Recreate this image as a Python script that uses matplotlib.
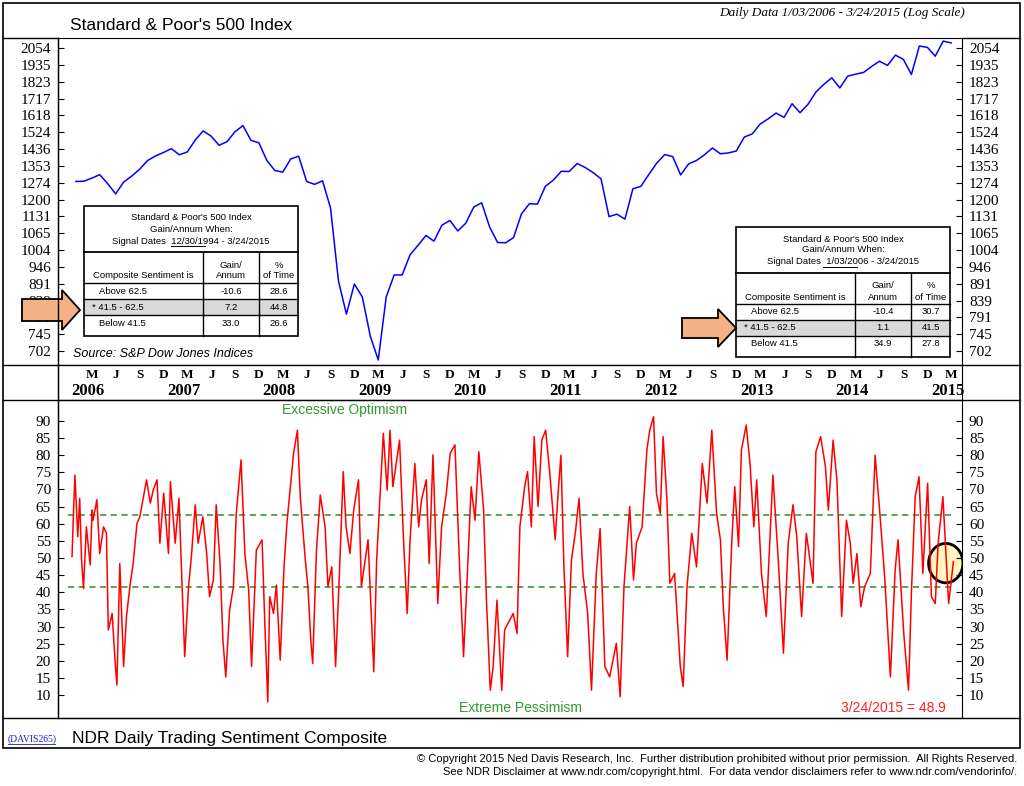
import numpy as np
import matplotlib
matplotlib.use('Agg')
import matplotlib.pyplot as plt
from matplotlib.lines import Line2D
from matplotlib.patches import Rectangle, Polygon, Ellipse

W, H = 1024, 786

# S&P 500 monthly levels, Jan 2006 .. Mar 2015
spx = [1280, 1281, 1295, 1311, 1270, 1225, 1277, 1304, 1336, 1378, 1401, 1418,
       1438, 1407, 1421, 1482, 1531, 1503, 1455, 1474, 1527, 1560, 1481, 1468,
       1379, 1331, 1323, 1386, 1400, 1280, 1267, 1283, 1166, 900, 800, 890,
       850, 740, 680, 850, 919, 919, 987, 1021, 1057, 1036, 1096, 1115,
       1074, 1104, 1169, 1187, 1089, 1031, 1030, 1049, 1141, 1183, 1181, 1258,
       1286, 1327, 1326, 1364, 1345, 1321, 1292, 1130, 1140, 1120, 1247, 1258,
       1312, 1366, 1408, 1398, 1310, 1362, 1379, 1407, 1441, 1412, 1416, 1426,
       1498, 1515, 1569, 1598, 1631, 1606, 1686, 1633, 1682, 1757, 1806, 1848,
       1783, 1859, 1872, 1884, 1924, 1960, 1931, 2003, 1972, 1870, 2068, 2059,
       1995, 2105, 2091]
spx_ticks = [702, 745, 791, 839, 891, 946, 1004, 1065, 1131, 1200, 1274, 1353,
             1436, 1524, 1618, 1717, 1823, 1935, 2054]

# NDR Daily Trading Sentiment Composite (decimal year, value)
sent_t = [2006.00, 2006.01, 2006.03, 2006.06, 2006.08, 2006.10, 2006.12, 2006.15, 2006.19, 2006.21,
          2006.22, 2006.26, 2006.29, 2006.33, 2006.36, 2006.38, 2006.42, 2006.45, 2006.47, 2006.50,
          2006.54, 2006.57, 2006.61, 2006.64, 2006.68, 2006.71, 2006.78, 2006.82, 2006.85, 2006.89,
          2006.92, 2006.96, 2007.01, 2007.03, 2007.08, 2007.12, 2007.15, 2007.18, 2007.22, 2007.25,
          2007.29, 2007.32, 2007.37, 2007.41, 2007.44, 2007.48, 2007.51, 2007.55, 2007.58, 2007.61,
          2007.65, 2007.69, 2007.72, 2007.77, 2007.81, 2007.85, 2007.88, 2007.93, 2007.99, 2008.02,
          2008.05, 2008.07, 2008.11, 2008.14, 2008.18, 2008.22, 2008.25, 2008.28, 2008.32, 2008.36,
          2008.39, 2008.44, 2008.47, 2008.50, 2008.52, 2008.56, 2008.60, 2008.65, 2008.68, 2008.72,
          2008.76, 2008.80, 2008.84, 2008.87, 2008.91, 2008.95, 2009.00, 2009.03, 2009.07, 2009.10,
          2009.16, 2009.19, 2009.22, 2009.26, 2009.30, 2009.33, 2009.36, 2009.43, 2009.47, 2009.51,
          2009.54, 2009.59, 2009.63, 2009.66, 2009.71, 2009.74, 2009.78, 2009.83, 2009.87, 2009.92,
          2009.96, 2010.01, 2010.06, 2010.10, 2010.14, 2010.18, 2010.22, 2010.26, 2010.31, 2010.34,
          2010.38, 2010.41, 2010.45, 2010.50, 2010.53,
          2010.62, 2010.66, 2010.69, 2010.74, 2010.77, 2010.81, 2010.84, 2010.88, 2010.92, 2010.96,
          2011.00, 2011.06, 2011.09, 2011.12, 2011.15, 2011.19, 2011.23, 2011.27, 2011.31, 2011.35,
          2011.40, 2011.44, 2011.49, 2011.53, 2011.58, 2011.63, 2011.70, 2011.74, 2011.78, 2011.84,
          2011.88, 2011.91, 2011.97, 2012.02, 2012.05, 2012.09, 2012.12, 2012.16, 2012.19, 2012.23,
          2012.26, 2012.31, 2012.37, 2012.40, 2012.44, 2012.49, 2012.54, 2012.60, 2012.65, 2012.70,
          2012.75, 2012.79, 2012.82, 2012.86, 2012.91, 2012.94, 2012.98, 2013.01, 2013.06, 2013.10,
          2013.14, 2013.17, 2013.22, 2013.27, 2013.34, 2013.40, 2013.45, 2013.50, 2013.55, 2013.59,
          2013.64, 2013.69, 2013.76, 2013.79, 2013.84, 2013.89, 2013.92, 2013.97, 2014.01, 2014.06,
          2014.11, 2014.15, 2014.18, 2014.22, 2014.26, 2014.30, 2014.36, 2014.41, 2014.46, 2014.51,
          2014.57, 2014.62, 2014.65, 2014.71, 2014.76, 2014.79, 2014.83, 2014.87, 2014.91, 2014.96,
          2015.00, 2015.04, 2015.07, 2015.12, 2015.16, 2015.18, 2015.23]
sent_v = [50.4, 59.1, 74.2, 56.2, 67.4, 49.4, 41.1, 59.1, 48.0, 64.0,
          61.0, 67.0, 51.3, 59.1, 57.2, 29.0, 33.8, 20.2, 12.9, 48.4,
          18.3, 32.9, 42.6, 48.4, 60.1, 62.0, 72.8, 66.0, 69.8, 72.8,
          54.3, 68.9, 51.3, 72.3, 54.3, 67.4, 43.6, 21.2, 41.6, 50.4,
          65.5, 54.3, 62.0, 51.3, 38.7, 43.6, 65.5, 48.4, 26.1, 15.3,
          34.8, 41.6, 63.0, 78.6, 51.3, 40.6, 18.3, 52.3, 55.3, 29.9,
          8.0, 38.7, 33.8, 42.1, 20.2, 47.4, 60.1, 68.9, 80.5, 87.3,
          67.9, 50.4, 41.6, 26.1, 19.2, 52.3, 68.4, 59.1, 41.6, 47.4,
          18.3, 45.5, 75.2, 59.1, 51.3, 64.0, 72.8, 41.6, 49.4, 55.3,
          16.8, 49.4, 65.0, 86.4, 69.8, 87.3, 70.8, 84.4, 56.2, 33.8,
          55.3, 77.6, 59.1, 67.0, 72.8, 48.4, 80.1, 36.7, 59.1, 68.9,
          80.5, 83.0, 46.5, 21.2, 45.5, 70.8, 61.0, 81.0, 64.0, 37.7,
          11.4, 18.3, 37.7, 11.4, 29.0,
          33.8, 28.0, 59.1, 70.8, 75.2, 59.1, 85.4, 65.0, 84.4, 87.3,
          75.7, 55.3, 68.9, 80.0, 48.4, 21.2, 49.4, 57.2, 67.4, 45.5,
          33.8, 11.4, 45.5, 58.6, 18.3, 15.3, 25.1, 9.5, 41.6, 65.0,
          43.6, 54.3, 59.1, 81.5, 87.3, 91.2, 68.9, 63.0, 85.4, 67.0,
          42.6, 45.5, 18.3, 12.5, 41.6, 57.2, 47.4, 77.6, 66.0, 87.3,
          63.0, 55.3, 35.8, 20.2, 55.3, 70.8, 53.3, 81.5, 88.8, 77.6,
          59.1, 72.8, 45.5, 32.9, 74.2, 47.4, 22.2, 54.3, 65.5, 56.2,
          32.9, 57.2, 42.6, 81.0, 85.4, 76.6, 64.0, 84.4, 72.8, 32.9,
          61.0, 54.3, 42.6, 51.3, 35.8, 41.6, 45.5, 80.0, 63.0, 44.5,
          15.3, 46.5, 55.3, 28.0, 11.4, 39.7, 67.9, 73.7, 45.5, 71.8,
          38.7, 36.7, 54.3, 67.9, 47.4, 36.7, 48.9]
sent_ticks = list(range(10, 95, 5))
month_letters = {3: 'M', 6: 'J', 9: 'S', 12: 'D'}
years = list(range(2006, 2016))

serif = 'Liberation Serif'
sans = 'Liberation Sans'
X0, X1 = 2005.853, 2015.32


def fx(x):
    return x / W


def fy(y):
    return 1 - y / H


fig = plt.figure(figsize=(10.24, 7.86), dpi=100)


def ftext(x, y, s, **kw):
    fig.text(fx(x), fy(y), s, **kw)


def fline(xs, ys, **kw):
    fig.add_artist(Line2D([fx(v) for v in xs], [fy(v) for v in ys], **kw))


# ---- top panel: S&P 500
ax1 = fig.add_axes([fx(58), fy(365), fx(904), 327 / H])
t_spx = 2006.04 + np.arange(len(spx)) / 12
ax1.plot(t_spx, spx, color='#0000ff', lw=1.1)
ax1.set_yscale('log')
ax1.set_ylim(668, 2128)
ax1.set_xlim(X0, X1)
ax1.set_yticks(spx_ticks)
ax1.set_yticklabels([str(v) for v in spx_ticks])
ax1.minorticks_off()
ax1.tick_params(axis='y', which='both', direction='in', length=4, labelsize=11,
                left=True, right=True, labelleft=True, labelright=True, pad=5)
for lab in ax1.get_yticklabels():
    lab.set_fontfamily(serif)
ax1.set_xticks(years)
ax1.set_xticks([y + m / 12 for y in years[:-1] for m in range(1, 12)] + [2015 + 1 / 12, 2015 + 2 / 12], minor=True)
ax1.tick_params(axis='x', which='major', direction='out', length=6, labelbottom=False)
ax1.tick_params(axis='x', which='minor', direction='out', length=3)

# ---- date band
axb = fig.add_axes([fx(58), fy(400), fx(904), 35 / H])
axb.set_xlim(X0, X1)
axb.set_ylim(0, 1)
axb.set_xticks([])
axb.set_yticks([])
axb.spines['top'].set_visible(False)
for y in years:
    for m, s in month_letters.items():
        t = y + (m - 0.5) / 12
        if t < X1 - 0.02:
            axb.text(t, 0.7, s, ha='center', va='center', fontsize=9.5, fontfamily=serif, fontweight='bold')
    axb.text(y + 0.17, 0.27, str(y), ha='center', va='center', fontsize=12, fontfamily=serif, fontweight='bold')

# ---- bottom panel: sentiment
ax2 = fig.add_axes([fx(58), fy(718), fx(904), 318 / H])
ax2.add_patch(Ellipse((2015.15, 48.5), 0.36, 11.5, facecolor='#fff6c0', edgecolor='black', lw=2, zorder=1))
ax2.plot(sent_t, sent_v, color='#ff0000', lw=1.1, zorder=3)
ax2.plot([2005.96, 2015.2], [62.5, 62.5], color='#2e8b2e', lw=1.1, ls=(0, (4, 3)), zorder=2)
ax2.plot([2005.96, 2015.2], [41.5, 41.5], color='#2e8b2e', lw=1.1, ls=(0, (4, 3)), zorder=2)
ax2.set_xlim(X0, X1)
ax2.set_ylim(3.3, 96.1)
ax2.set_xticks([])
ax2.set_yticks(sent_ticks)
ax2.tick_params(axis='y', direction='in', length=4, labelsize=11, left=True, right=True,
                labelleft=True, labelright=True, pad=5)
for lab in ax2.get_yticklabels():
    lab.set_fontfamily(serif)
ax2.text(2008.85, 93.3, 'Excessive Optimism', ha='center', va='center', color='#2e9a2e', fontsize=10, fontfamily=sans)
ax2.text(2010.7, 6.2, 'Extreme Pessimism', ha='center', va='center', color='#2e9a2e', fontsize=10, fontfamily=sans)
ax2.text(2015.15, 6.2, '3/24/2015 = 48.9', ha='right', va='center', color='#ff2020', fontsize=10, fontfamily=sans)

# ---- frame, header, footer
fig.add_artist(Rectangle((fx(3), fy(748)), fx(1017), 745 / H, fill=False, lw=1.2, edgecolor='black'))
fline([3, 58], [38, 38], color='black', lw=1)
fline([58, 58], [38, 718], color='black', lw=1)
fline([962, 1020], [38, 38], color='black', lw=1)
fline([3, 1020], [365, 365], color='black', lw=1)
fline([3, 1020], [400, 400], color='black', lw=1)
fline([3, 1020], [718, 718], color='black', lw=1)
ftext(70, 25, "Standard & Poor's 500 Index", fontsize=12.5, fontfamily=sans, va='center')
ftext(965, 13, 'Daily Data 1/03/2006 - 3/24/2015 (Log Scale)', fontsize=9.5, fontfamily=serif,
      style='italic', ha='right', va='center')
ftext(73, 354, 'Source: S&P Dow Jones Indices', fontsize=9, fontfamily=sans, style='italic', va='center')
ftext(8, 739, '(DAVIS265)', fontsize=7, fontfamily=serif, color='#2020c0', va='center')
fline([8, 55], [744, 744], color='#2020c0', lw=0.6)
ftext(72, 738, 'NDR Daily Trading Sentiment Composite', fontsize=12.5, fontfamily=sans, va='center')
ftext(1017, 759, '© Copyright 2015 Ned Davis Research, Inc.  Further distribution prohibited without prior permission.  All Rights Reserved.',
      fontsize=8, fontfamily=sans, ha='right', va='center')
ftext(1017, 772, 'See NDR Disclaimer at www.ndr.com/copyright.html.  For data vendor disclaimers refer to www.ndr.com/vendorinfo/.',
      fontsize=8, fontfamily=sans, ha='right', va='center')


def table(x0, y0, since, rows):
    x1, y1 = x0 + 214, y0 + 130
    c1, c2 = x0 + 119, x0 + 175
    r0, r1, r2, r3 = y0 + 46, y0 + 77, y0 + 93, y0 + 109
    fig.add_artist(Rectangle((fx(x0), fy(r3)), fx(x1 - x0), (r3 - r2) / H, facecolor='#d9d9d9', edgecolor='none'))
    fig.add_artist(Rectangle((fx(x0), fy(y1)), fx(x1 - x0), 130 / H, facecolor='none', edgecolor='black', lw=1.2))
    for yy in (r0, r1, r2, r3):
        fline([x0, x1], [yy, yy], color='black', lw=1 if yy != r0 else 1.3)
    for xx in (c1, c2):
        fline([xx, xx], [r0, y1], color='black', lw=1)
    kw = dict(fontsize=6.8, fontfamily=sans, ha='center', va='center')
    cx = (x0 + x1) / 2
    ftext(cx, y0 + 12, "Standard & Poor's 500 Index", **kw)
    ftext(cx, y0 + 23, 'Gain/Annum When:', **kw)
    ftext(cx, y0 + 35, 'Signal Dates  %s - 3/24/2015' % since, **kw)
    fline([cx - 20, cx + 14], [y0 + 40, y0 + 40], color='black', lw=0.7)
    ftext((x0 + c1) / 2, y0 + 70, 'Composite Sentiment is', **kw)
    ftext((c1 + c2) / 2, y0 + 59, 'Gain/', **kw)
    ftext((c1 + c2) / 2, y0 + 70, 'Annum', **kw)
    ftext((c2 + x1) / 2, y0 + 59, '%', **kw)
    ftext((c2 + x1) / 2, y0 + 70, 'of Time', **kw)
    for (lab, g, p), yy in zip(rows, (r1, r2, r3)):
        mid = yy + 8
        ftext(x0 + 8 if lab.startswith('*') else x0 + 15, mid, lab, fontsize=6.8, fontfamily=sans, va='center')
        ftext((c1 + c2) / 2, mid, g, **kw)
        ftext((c2 + x1) / 2, mid, p, **kw)


def arrow(x0, y0, x1, y1):
    ym = (y0 + y1) / 2
    pts = [(x0, y0 + 9), (x1 - 18, y0 + 9), (x1 - 18, y0), (x1, ym), (x1 - 18, y1), (x1 - 18, y1 - 9), (x0, y1 - 9)]
    fig.add_artist(Polygon([(fx(a), fy(b)) for a, b in pts], closed=True, facecolor='#f4b183', edgecolor='black', lw=1.3))


table(84, 206, '12/30/1994', [('Above 62.5', '-10.6', '28.6'), ('* 41.5 - 62.5', '7.2', '44.8'), ('Below 41.5', '33.0', '26.6')])
table(736, 227, '1/03/2006', [('Above 62.5', '-10.4', '30.7'), ('* 41.5 - 62.5', '1.1', '41.5'), ('Below 41.5', '34.9', '27.8')])
arrow(22, 290, 80, 330)
arrow(682, 309, 736, 347)

fig.savefig('out.png', dpi=100)
